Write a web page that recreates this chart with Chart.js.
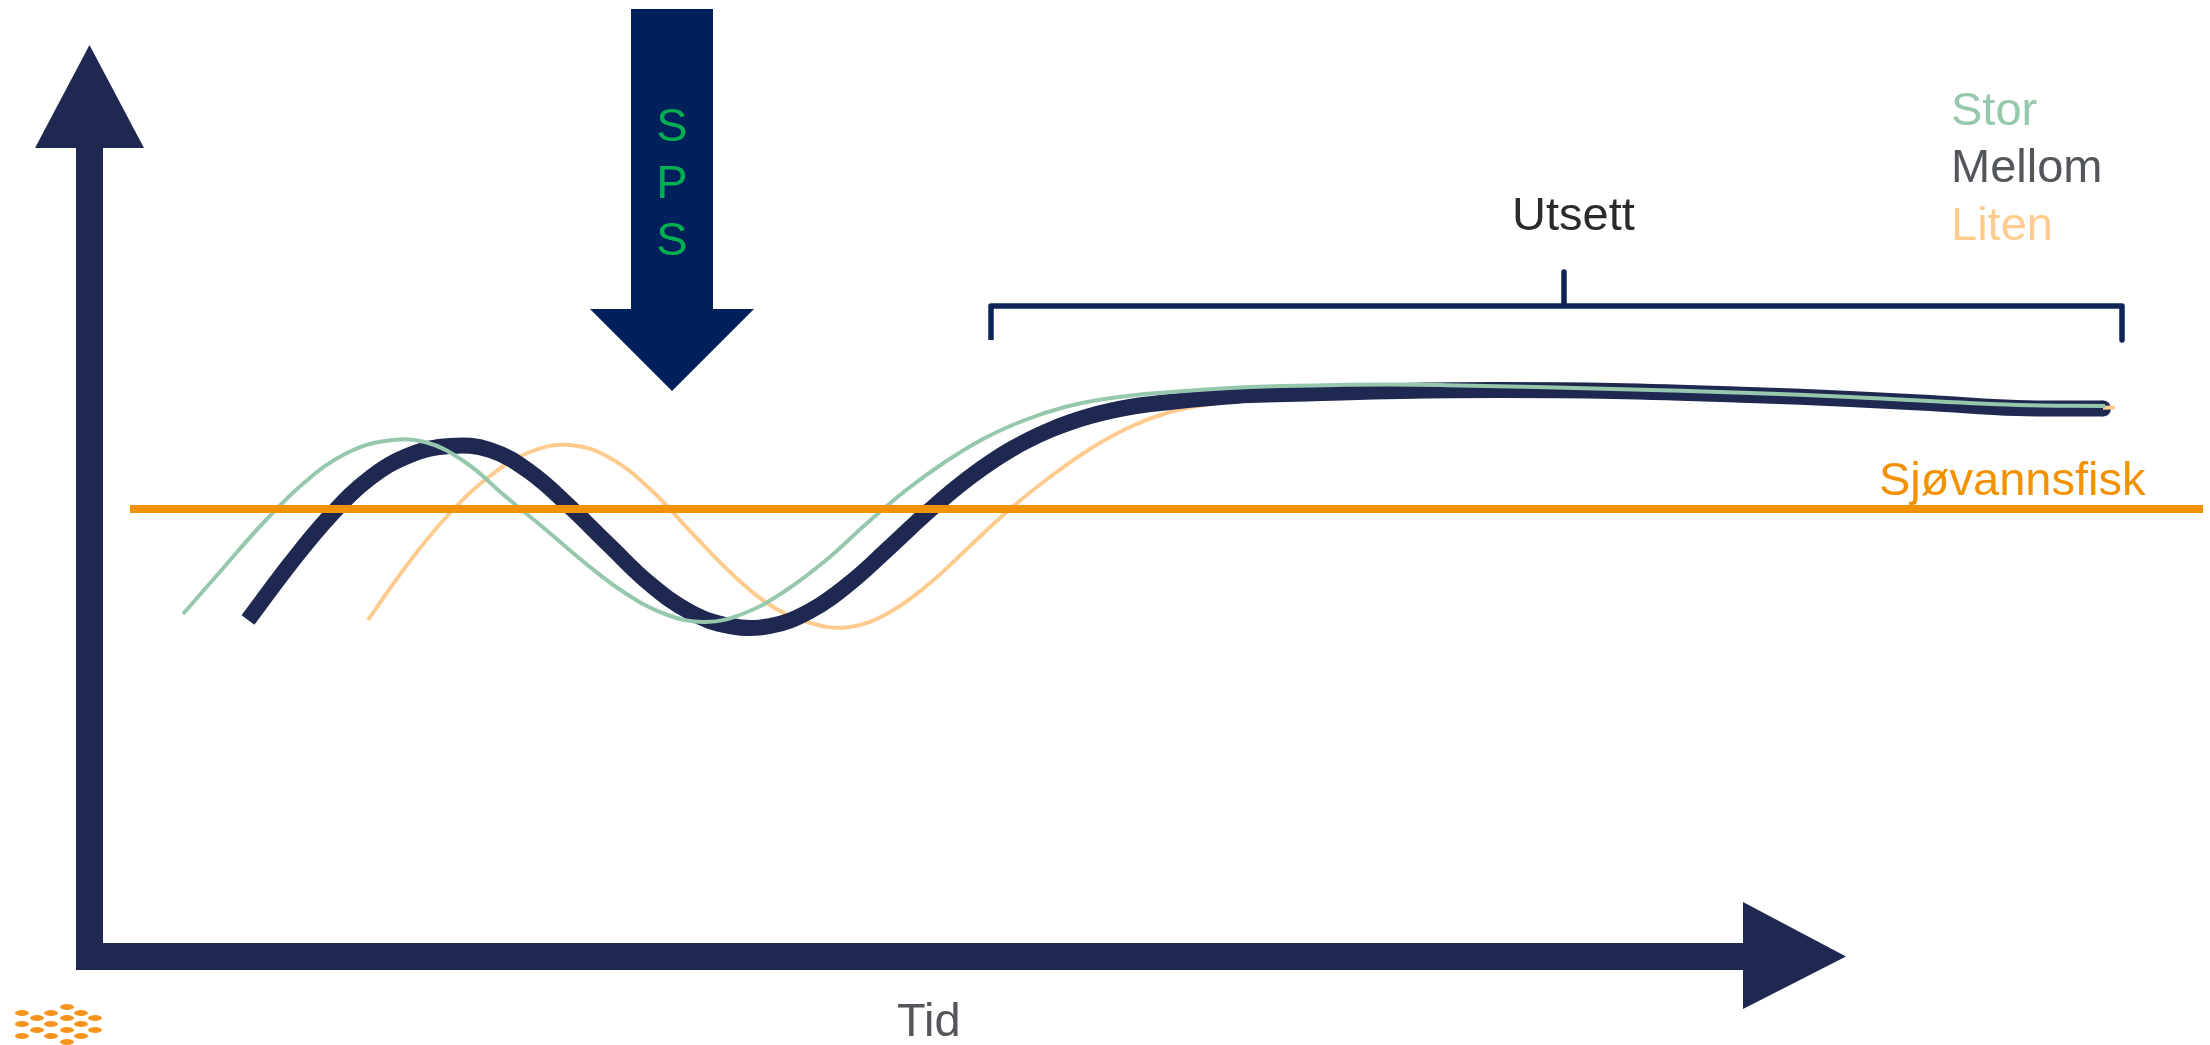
<!DOCTYPE html>
<html>
<head>
<meta charset="utf-8">
<title>Tid</title>
<script src="https://cdn.jsdelivr.net/npm/chart.js@4"></script>
<style>
  html, body { margin: 0; padding: 0; background: #ffffff; }
  canvas { display: block; }
</style>
</head>
<body>
<canvas id="chart" width="2210" height="1045"></canvas>
<script>
const STOR_X = [183, 225, 265, 305, 345, 385, 425, 465, 505, 545, 585, 625, 665, 705, 745, 785, 825, 865, 905, 945, 985, 1025, 1065, 1105, 1145, 1185, 1250, 1384, 1460, 1613, 1750, 1850, 2017, 2105];
const STOR_Y = [431, 479, 524, 563, 591, 604, 603, 583, 549, 516, 482, 452, 431, 423, 432, 454, 484, 520, 554, 583, 607, 625, 638, 646, 651, 654, 658, 660.5, 659.5, 656, 652, 648, 640, 639];

const MELLOM_X = [248, 290, 330, 370, 410, 450, 490, 530, 570, 610, 650, 690, 730, 770, 810, 850, 890, 930, 970, 1010, 1050, 1090, 1130, 1170, 1210, 1250, 1307, 1400, 1500, 1613, 1750, 1850, 1930, 2017, 2103];
const MELLOM_Y = [425, 481, 529, 567, 590, 599, 595, 573, 538, 499, 461, 433, 419, 419, 434, 462, 498, 535, 568, 595, 615, 629, 638, 643, 647, 650, 651.5, 654, 655, 654, 650, 646, 642, 637, 636.5];

const LITEN_X = [368, 410, 450, 490, 530, 570, 610, 650, 690, 730, 770, 810, 850, 890, 930, 970, 1010, 1050, 1090, 1130, 1170, 1210, 1250, 1307, 1460, 1613, 1750, 1850, 2017, 2060, 2115];
const LITEN_Y = [425, 484, 532, 569, 593, 600, 587, 556, 514, 473, 440, 422, 418, 433, 462, 499, 536, 568, 596, 618, 633, 641, 646, 652, 655, 654, 650, 646, 638, 637, 637.5];

const SJOVANN_X = [130, 2203];
const SJOVANN_Y = [536, 536];

const BRACKET_X = [991, 991, 1564, 1564, 1564, 2122, 2122];
const BRACKET_Y = [705, 739, 739, 773, 739, 739, 705];

const LOGO_X = [67, 22, 51, 81, 37, 67, 95, 22, 51, 81, 37, 67, 95, 22, 51, 81, 67];
const LOGO_Y = [38, 32, 32, 32, 27, 27, 27, 21, 21, 21, 15, 15, 15, 9, 9, 9, 3];

const SERIES_NAMES = ["Stor", "Mellom", "Liten"];
const NAVY = "#1f2850";

function points(xs, ys) {
  return xs.map((x, i) => ({ x: x, y: ys[i] }));
}

function line(label, xs, ys, color, width, tension) {
  return {
    label: label,
    data: points(xs, ys),
    borderColor: color,
    borderWidth: width,
    borderCapStyle: "butt",
    borderJoinStyle: "round",
    tension: tension,
    showLine: true,
    pointRadius: 0,
  };
}

// filled polygon, coordinates in scale units
function polygon(chart, pts, color) {
  const { x, y } = chart.scales;
  const ctx = chart.ctx;
  ctx.beginPath();
  pts.forEach((p, i) => {
    const px = x.getPixelForValue(p[0]);
    const py = y.getPixelForValue(p[1]);
    if (i === 0) ctx.moveTo(px, py);
    else ctx.lineTo(px, py);
  });
  ctx.closePath();
  ctx.fillStyle = color;
  ctx.fill();
}

function label(chart, text, vx, vy, color, align) {
  const ctx = chart.ctx;
  ctx.font = '47px "Liberation Sans", Arial, sans-serif';
  ctx.fillStyle = color;
  ctx.textAlign = align || "left";
  ctx.textBaseline = "alphabetic";
  ctx.fillText(text, chart.scales.x.getPixelForValue(vx), chart.scales.y.getPixelForValue(vy));
}

const shapes = {
  id: "shapes",
  beforeDatasetsDraw(chart) {
    // time and value axes with arrow heads
    polygon(chart, [
      [76, 75], [76, 897], [35, 897], [89.5, 1000], [144, 897], [103, 897], [103, 102],
      [1743, 102], [1743, 143], [1846, 88.5], [1743, 36], [1743, 75],
    ], NAVY);

    // logo dots
    const ctx = chart.ctx;
    ctx.fillStyle = "#f7941e";
    LOGO_X.forEach((vx, i) => {
      ctx.beginPath();
      ctx.ellipse(chart.scales.x.getPixelForValue(vx), chart.scales.y.getPixelForValue(LOGO_Y[i]), 7, 3, 0, 0, Math.PI * 2);
      ctx.fill();
    });
  },
  afterDatasetsDraw(chart) {
    // rounded end of the thick curve, kept behind the thin one
    const last = chart.getDatasetMeta(2).data[MELLOM_X.length - 1];
    const ctx = chart.ctx;
    ctx.save();
    ctx.globalCompositeOperation = "destination-over";
    ctx.beginPath();
    ctx.arc(last.x, last.y, 8, 0, Math.PI * 2);
    ctx.fillStyle = NAVY;
    ctx.fill();
    ctx.restore();

    // SPS arrow
    polygon(chart, [
      [631, 1036], [713, 1036], [713, 736], [754, 736], [672, 654], [590, 736], [631, 736],
    ], "#00205b");
    label(chart, "S", 672, 904, "#00b050", "center");
    label(chart, "P", 672, 847, "#00b050", "center");
    label(chart, "S", 672, 790, "#00b050", "center");

    label(chart, SERIES_NAMES[0], 1951, 920, "#96c8ae");
    label(chart, SERIES_NAMES[1], 1951, 863, "#53565a");
    label(chart, SERIES_NAMES[2], 1951, 805, "#ffcb8e");
    label(chart, "Utsett", 1512, 815, "#2b2b2b");
    label(chart, "Sjøvannsfisk", 1879, 550, "#f39200");
    label(chart, "Tid", 897, 9, "#53565a");
  },
};

new Chart(document.getElementById("chart"), {
  type: "scatter",
  data: {
    datasets: [
      line("Sjøvannsfisk", SJOVANN_X, SJOVANN_Y, "#f39200", 8, 0),
      line(SERIES_NAMES[0], STOR_X, STOR_Y, "#96c8ae", 4, 0.4),
      line(SERIES_NAMES[1], MELLOM_X, MELLOM_Y, NAVY, 16, 0.4),
      line(SERIES_NAMES[2], LITEN_X, LITEN_Y, "#ffcb8e", 4, 0.4),
      line("Utsett", BRACKET_X, BRACKET_Y, "#0f2557", 5.5, 0),
    ],
  },
  options: {
    responsive: false,
    animation: false,
    layout: { padding: 0 },
    plugins: {
      legend: { display: false },
      title: { display: false },
      tooltip: { enabled: false },
    },
    scales: {
      x: { type: "linear", display: false, min: 0, max: 2210 },
      y: { type: "linear", display: false, min: 0, max: 1045 },
    },
  },
  plugins: [shapes],
});
</script>
</body>
</html>
